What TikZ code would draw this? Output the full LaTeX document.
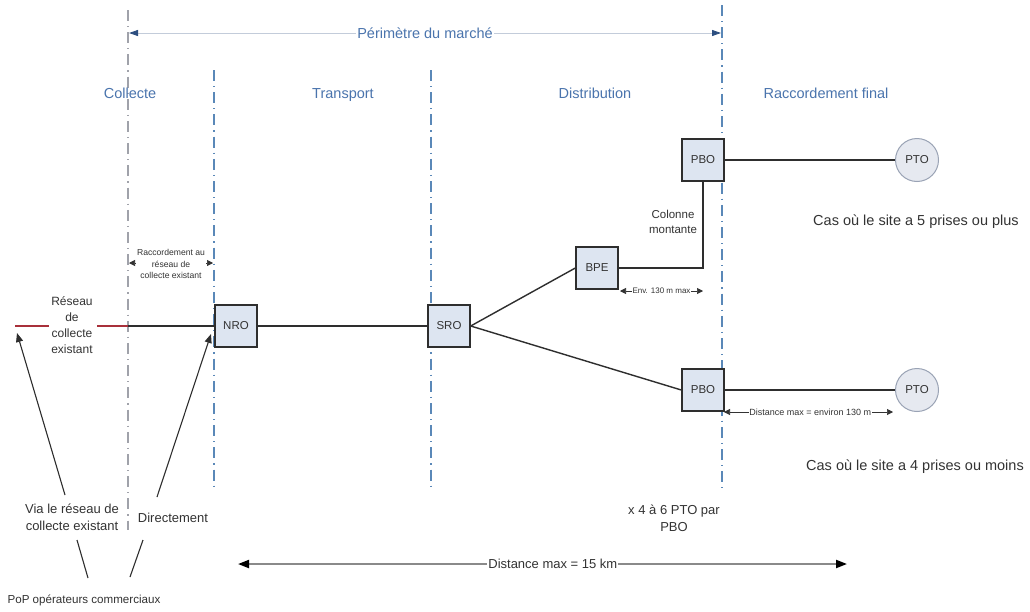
\documentclass[tikz,border=0pt]{standalone}
\usepackage{fontspec}
\setmainfont{Liberation Sans}
\usetikzlibrary{arrows.meta}
\definecolor{secblue}{HTML}{4A74AD}
\definecolor{sepblue}{HTML}{5A88B8}
\definecolor{sepgrey}{HTML}{A0A2AA}
\definecolor{perimline}{HTML}{C3CCDA}
\definecolor{perimarrow}{HTML}{2D4F80}
\definecolor{boxfill}{HTML}{DDE5F1}
\definecolor{boxline}{HTML}{2E2E2E}
\definecolor{wirec}{HTML}{2E2E2E}
\definecolor{ptofill}{HTML}{E6E9F0}
\definecolor{ptoline}{HTML}{9AA3B5}
\definecolor{redline}{HTML}{A8303A}
\definecolor{txt}{HTML}{333333}
\definecolor{distline}{HTML}{8A8A8A}
\begin{document}
\begin{tikzpicture}[x=1pt,y=-1pt,
  sect/.style={text=secblue,font=\fontsize{14.5}{17}\selectfont,inner sep=0pt,anchor=base},
  lbl/.style={text=txt,font=\fontsize{13}{17}\selectfont,align=center,inner sep=1pt},
  boxn/.style={draw=boxline,fill=boxfill,line width=1.4pt,minimum size=42pt,inner sep=0pt,text=txt,font=\fontsize{11.5}{13}\selectfont},
  pton/.style={circle,draw=ptoline,fill=ptofill,line width=1pt,minimum size=43pt,inner sep=0pt,text=txt,font=\fontsize{11.5}{13}\selectfont},
  wire/.style={draw=wirec,line width=1.4pt},
  sepline/.style={line width=1.3pt,dash pattern=on 11pt off 5pt on 1.2pt off 5pt},
  tip/.style={-{Triangle[length=9pt,width=7pt]},line width=1.1pt,draw=wirec},
  dimarr/.style={{Triangle[length=6pt,width=6pt]}-{Triangle[length=6pt,width=6pt]},line width=0.6pt,draw=txt},
  small/.style={text=txt,align=center,fill=white,inner sep=0.6pt},
]
\path[use as bounding box,fill=white] (0,0) rectangle (1030,611);

% separators
\draw[sepline,sepgrey] (128,10) -- (128,530);
\draw[sepline,sepblue] (214,70) -- (214,490);
\draw[sepline,sepblue] (431,70) -- (431,490);
\draw[sepline,sepblue] (722,5) -- (722,490);

% perimeter
\coordinate (pL) at (129,33);
\coordinate (pR) at (721,33);
\draw[perimline,line width=0.9pt,{Triangle[length=9pt,width=6pt,color=perimarrow]}-{Triangle[length=9pt,width=6pt,color=perimarrow]}] (pL) -- (pR)
  node[pos=0.5,fill=white,text=secblue,font=\fontsize{14.5}{17}\selectfont,inner sep=1pt] (perim) {Périmètre du marché};

% section labels
\node[sect] (scol) at (130,98) {Collecte};
\node[sect] (stra) at (343,98) {Transport};
\node[sect] (sdis) at (595,98) {Distribution};
\node[sect] (srac) at (826,98) {Raccordement final};

% nodes
\node[boxn] (nro) at (236,326) {NRO};
\node[boxn] (sro) at (449,326) {SRO};
\node[boxn] (bpe) at (597,268) {BPE};
\node[boxn] (pbo1) at (703,160) {PBO};
\node[boxn] (pbo2) at (703,390) {PBO};
\node[pton] (pto1) at (917,160) {PTO};
\node[pton] (pto2) at (917,390) {PTO};

% existing collect network
\coordinate (rA) at (15,326);
\coordinate (rB) at (49,326);
\coordinate (rC) at (97,326);
\coordinate (rD) at (128,326);
\draw[redline,line width=2.3pt] (rA) -- (rB);
\draw[redline,line width=2.3pt] (rC) -- (rD);
\node[text=txt,align=center,font=\fontsize{12}{16}\selectfont,inner sep=0pt] (reseau) at (72,325) {Réseau\\de\\collecte\\existant};

% wires
\draw[wire] (rD) -- (nro.west);
\draw[wire] (nro.east) -- (sro.west);
\draw[wire] (sro.east) -- (bpe.west);
\draw[wire] (sro.east) -- (pbo2.west);
\draw[wire] (bpe.east) -- (bpe.east -| pbo1.south) -- (pbo1.south);
\draw[wire] (pbo1.east) -- (pto1.west);
\draw[wire] (pbo2.east) -- (pto2.west);

\node[text=txt,align=center,font=\fontsize{11.5}{15}\selectfont,inner sep=1pt] (colonne) at (673,222) {Colonne\\montante};

% raccordement dimension
\coordinate (raL) at (129,263);
\coordinate (raR) at (213,263);
\draw[dimarr] (raL) -- (raR);
\node[small,font=\fontsize{8.6}{11.5}\selectfont] (racc) at (171,264) {Raccordement au\\réseau de\\collecte existant};

% env 130 m
\coordinate (eL) at (620,291);
\coordinate (eR) at (703,291);
\draw[dimarr] (eL) -- (eR) node[pos=0.5,small,font=\fontsize{8}{9}\selectfont] (env) {Env. 130 m max};

% distance 130 m
\coordinate (dL) at (724,412);
\coordinate (dR) at (893,412);
\draw[dimarr] (dL) -- (dR) node[pos=0.51,small,font=\fontsize{9}{10}\selectfont] (d130) {Distance max = environ 130 m};

% cases
\node[text=txt,font=\fontsize{14.5}{17}\selectfont,inner sep=1pt] (cas5) at (916,222) {Cas où le site a 5 prises ou plus};
\node[text=txt,font=\fontsize{14.5}{17}\selectfont,inner sep=1pt] (cas4) at (915,467) {Cas où le site a 4 prises ou moins};
\node[lbl] (xpto) at (674,518) {x 4 à 6 PTO par\\PBO};

% distance 15 km
\coordinate (kL) at (238,564);
\coordinate (kR) at (847,564);
\draw[distline,line width=2pt,{Triangle[length=11pt,width=8pt,color=black]}-{Triangle[length=11pt,width=8pt,color=black]}] (kL) -- (kR)
  node[pos=0.517,fill=white,text=txt,font=\fontsize{13}{15}\selectfont,inner sep=1pt] (d15) {Distance max = 15 km};

% bottom labels
\node[lbl] (via) at (72,517) {Via le réseau de\\collecte existant};
\node[lbl] (direct) at (173,518) {Directement};
\node[text=txt,font=\fontsize{11.6}{14}\selectfont,inner sep=1pt] (pop) at (84,600) {PoP opérateurs commerciaux};

\coordinate (viaFrom) at (65,495);
\coordinate (viaTip) at (17,333);
\coordinate (dirFrom) at (157,497);
\coordinate (dirTip) at (211,334);
\coordinate (popL) at (88,578);
\coordinate (viaB) at (77,540);
\coordinate (popR) at (130,577);
\coordinate (dirB) at (143,540);
\draw[tip] (viaFrom) -- (viaTip);
\draw[tip] (dirFrom) -- (dirTip);
\draw[wirec,line width=1.1pt] (popL) -- (viaB);
\draw[wirec,line width=1.1pt] (popR) -- (dirB);
\end{tikzpicture}
\end{document}
